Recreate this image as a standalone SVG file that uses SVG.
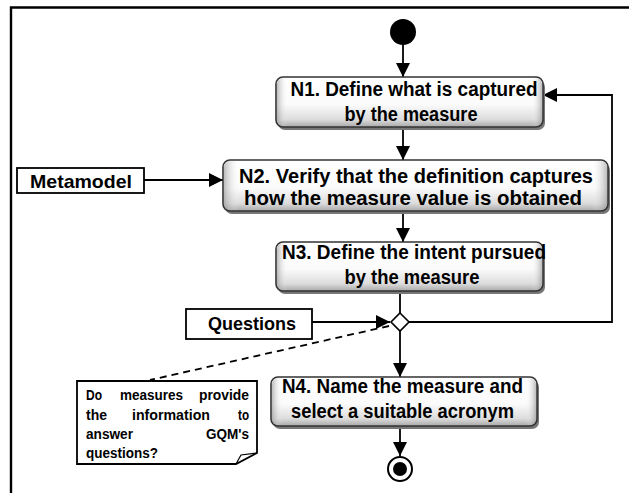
<svg xmlns="http://www.w3.org/2000/svg" width="629" height="493" viewBox="0 0 629 493">
<style>
.act{fill:url(#gv);stroke:#333;stroke-width:1.6}
.bev{fill:url(#gh);stroke:none}
.sh{fill:#777}
.t{font-family:"Liberation Sans",Arial,sans-serif;font-weight:bold;font-size:19.5px;fill:#000;text-anchor:middle}
.box{fill:#fff;stroke:#000;stroke-width:1.8}
.bt{font-family:"Liberation Sans",Arial,sans-serif;font-weight:bold;font-size:19px;fill:#000;text-anchor:middle}
.nt{font-family:"Liberation Sans",Arial,sans-serif;font-weight:bold;font-size:14.5px;fill:#000}
.c{fill:none;stroke:#000;stroke-width:1.8}
</style>
<defs>
<linearGradient id="gv" x1="0" y1="0" x2="0" y2="1">
<stop offset="0" stop-color="#ffffff"/>
<stop offset="0.55" stop-color="#fbfbfb"/>
<stop offset="0.85" stop-color="#dcdcdc"/>
<stop offset="1" stop-color="#a8a8a8"/>
</linearGradient>
<linearGradient id="gh" x1="0" y1="0" x2="1" y2="0">
<stop offset="0" stop-color="#888" stop-opacity="0.55"/>
<stop offset="0.04" stop-color="#fff" stop-opacity="0"/>
<stop offset="0.96" stop-color="#fff" stop-opacity="0"/>
<stop offset="1" stop-color="#888" stop-opacity="0.55"/>
</linearGradient>
<marker id="ah" markerUnits="userSpaceOnUse" markerWidth="14" markerHeight="14" refX="14" refY="7" orient="auto">
<path d="M0,0 L14,7 L0,14 z" fill="#000"/>
</marker>
</defs>
<rect width="629" height="493" fill="#fff"/>
<path d="M11,493 V7.5 H629" fill="none" stroke="#000" stroke-width="2.4"/>

<g id="connectors">
<line class="c" x1="403" y1="44" x2="403" y2="77" marker-end="url(#ah)"/>
<line class="c" x1="403" y1="127" x2="403" y2="160" marker-end="url(#ah)"/>
<line class="c" x1="403" y1="211" x2="403" y2="242" marker-end="url(#ah)"/>
<line class="c" x1="400" y1="291" x2="400" y2="313"/>
<line class="c" x1="144" y1="180" x2="223" y2="180" marker-end="url(#ah)"/>
<line class="c" x1="312" y1="322" x2="390" y2="322" marker-end="url(#ah)"/>
<polyline class="c" points="409,322 612,322 612,95 543,95" marker-end="url(#ah)"/>
<line class="c" x1="400" y1="331" x2="400" y2="377" marker-end="url(#ah)"/>
<line class="c" x1="400" y1="426" x2="400" y2="456" marker-end="url(#ah)"/>
<line x1="389" y1="326" x2="150" y2="380" stroke="#000" stroke-width="1.8" stroke-dasharray="7,5"/>
</g>

<g id="start"><circle cx="403" cy="32" r="13" fill="#000"/></g>

<g id="n1">
<rect class="sh" x="278" y="80" width="267" height="50" rx="7"/>
<rect class="act" x="276" y="77" width="267" height="50" rx="7"/>
<rect class="bev" x="277" y="78" width="265" height="48" rx="6"/>
<text class="t" x="414" y="96" textLength="247" lengthAdjust="spacingAndGlyphs">N1. Define what is captured</text>
<text class="t" x="411" y="121" textLength="133" lengthAdjust="spacingAndGlyphs">by the measure</text>
</g>

<g id="n2">
<rect class="sh" x="225" y="163" width="385" height="51" rx="7"/>
<rect class="act" x="223" y="160" width="385" height="51" rx="7"/>
<rect class="bev" x="224" y="161" width="383" height="49" rx="6"/>
<text class="t" x="416" y="183" textLength="354" lengthAdjust="spacingAndGlyphs">N2. Verify that the definition captures</text>
<text class="t" x="413" y="205" textLength="338" lengthAdjust="spacingAndGlyphs">how the measure value is obtained</text>
</g>

<g id="n3">
<rect class="sh" x="278" y="245" width="267" height="49" rx="7"/>
<rect class="act" x="276" y="242" width="267" height="49" rx="7"/>
<rect class="bev" x="277" y="243" width="265" height="47" rx="6"/>
<text class="t" x="414" y="259" textLength="264" lengthAdjust="spacingAndGlyphs">N3. Define the intent pursued</text>
<text class="t" x="412" y="284" textLength="135" lengthAdjust="spacingAndGlyphs">by the measure</text>
</g>

<g id="n4">
<rect class="sh" x="273" y="380" width="266" height="49" rx="7"/>
<rect class="act" x="271" y="377" width="266" height="49" rx="7"/>
<rect class="bev" x="272" y="378" width="264" height="47" rx="6"/>
<text class="t" x="402.5" y="393" textLength="241" lengthAdjust="spacingAndGlyphs">N4. Name the measure and</text>
<text class="t" x="402.5" y="418" textLength="223" lengthAdjust="spacingAndGlyphs">select a suitable acronym</text>
</g>

<g id="metamodel">
<rect class="box" x="17" y="168" width="127" height="25"/>
<text class="bt" x="81" y="188" textLength="102" lengthAdjust="spacingAndGlyphs">Metamodel</text>
</g>

<g id="questions">
<rect class="box" x="186" y="309" width="126" height="30"/>
<text class="bt" x="252" y="330" textLength="88" lengthAdjust="spacingAndGlyphs">Questions</text>
</g>

<g id="decision">
<polygon points="400,313 409,322 400,331 391,322" fill="#fff" stroke="#000" stroke-width="1.6"/>
</g>

<g id="note">
<path d="M77,381 H257 V453 L236,464 H77 Z" fill="#fff" stroke="#000" stroke-width="1.8"/>
<path d="M236,464 L241,455 L257,453" fill="none" stroke="#000" stroke-width="1.2"/>
<text class="nt" y="400"><tspan x="86" textLength="16" lengthAdjust="spacingAndGlyphs">Do</tspan><tspan x="120" textLength="63" lengthAdjust="spacingAndGlyphs">measures</tspan><tspan x="199" textLength="50" lengthAdjust="spacingAndGlyphs">provide</tspan></text>
<text class="nt" y="420"><tspan x="86" textLength="21" lengthAdjust="spacingAndGlyphs">the</tspan><tspan x="132" textLength="78" lengthAdjust="spacingAndGlyphs">information</tspan><tspan x="238" textLength="11" lengthAdjust="spacingAndGlyphs">to</tspan></text>
<text class="nt" y="439"><tspan x="86" textLength="47" lengthAdjust="spacingAndGlyphs">answer</tspan><tspan x="206" textLength="43" lengthAdjust="spacingAndGlyphs">GQM's</tspan></text>
<text class="nt" y="458"><tspan x="86" textLength="72" lengthAdjust="spacingAndGlyphs">questions?</tspan></text>
</g>

<g id="end">
<circle cx="400" cy="469" r="12" fill="#fff" stroke="#000" stroke-width="2"/>
<circle cx="400" cy="469" r="7" fill="#000"/>
</g>
</svg>
